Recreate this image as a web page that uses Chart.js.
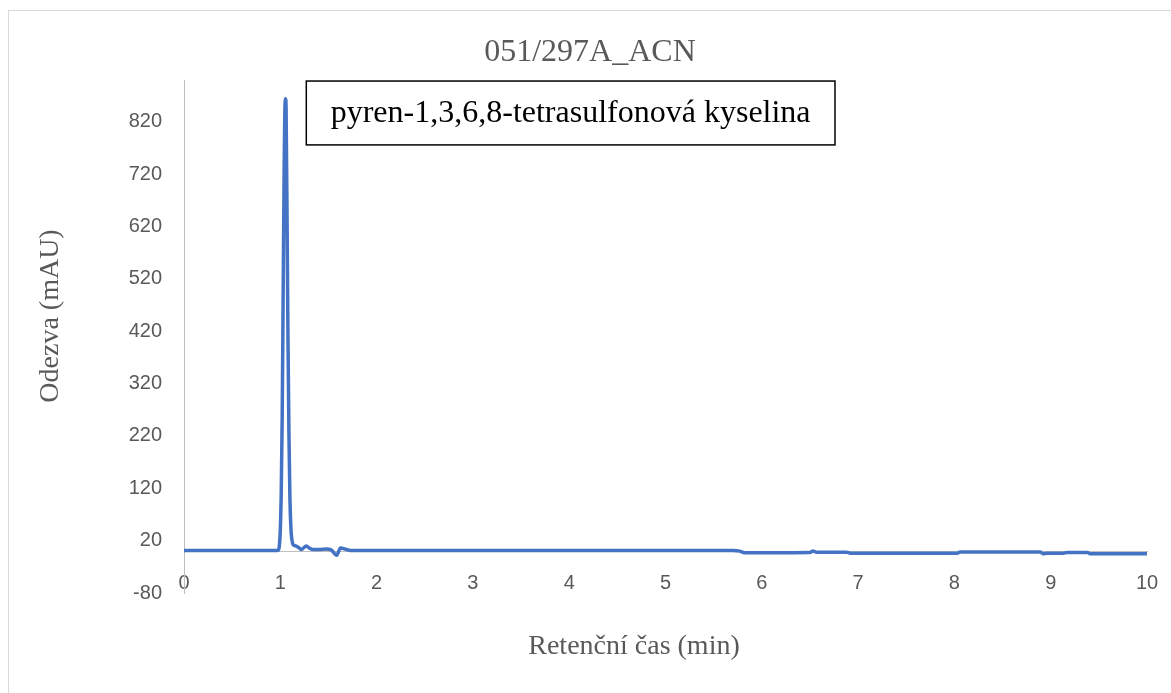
<!DOCTYPE html>
<html>
<head>
<meta charset="utf-8">
<script src="https://cdn.jsdelivr.net/npm/chart.js@4.4.1/dist/chart.umd.min.js"></script>
<style>
  html, body { margin: 0; padding: 0; background: #fff; overflow: hidden; }
  #ramecek { position: absolute; left: 8px; top: 10px; width: 1200px; height: 720px; border: 1px solid #d9d9d9; }
  #obal { position: absolute; left: 0; top: 0; width: 1171px; height: 693px; }
</style>
</head>
<body>
<div id="ramecek"></div>
<div id="obal"><canvas id="graf" width="1171" height="693"></canvas></div>
<script>
// retencni cas (min) a odezva (mAU)
const casy = [0, 0.5, 0.97, 0.98, 0.99, 1.00, 1.01, 1.02, 1.03, 1.04, 1.05, 1.055, 1.06, 1.07, 1.08, 1.09, 1.10, 1.11, 1.12, 1.135,
  1.16, 1.19, 1.22, 1.27, 1.30, 1.34, 1.40, 1.48, 1.53, 1.585, 1.625, 1.69, 1.74, 3.0, 5.7,
  5.77, 5.82, 6.1, 6.5, 6.53, 6.57, 6.88, 6.92, 8.03, 8.06, 8.89, 8.92, 8.96, 9.13, 9.17, 9.38, 9.41, 10];
const odezvy = [1, 1, 1, 2, 10, 40, 115, 260, 500, 730, 858, 864, 845, 640, 400, 220, 100, 45, 22, 12,
  10, 7, 3, 10, 6, 3, 3, 4, 2, -8, 6, 3, 1, 1, 1,
  0, -3, -3, -2.5, 0, -2, -2, -4, -4, -1.5, -1.5, -5, -4, -4, -2.5, -2.5, -5, -5];

const yTicky = [-80, 20, 120, 220, 320, 420, 520, 620, 720, 820];
const xTicky = [0, 1, 2, 3, 4, 5, 6, 7, 8, 9, 10];

const nazev = "051/297A_ACN";
const popisek = "pyren-1,3,6,8-tetrasulfonová kyselina";
const osaX = "Retenční čas (min)";
const osaY = "Odezva (mAU)";

const seda = "#595959";

function text(ctx, t, x, y, font, barva, uhel) {
  ctx.save();
  ctx.translate(x, y);
  if (uhel) ctx.rotate(uhel);
  ctx.fillStyle = barva;
  ctx.font = font;
  ctx.textAlign = "center";
  ctx.textBaseline = "middle";
  ctx.fillText(t, 0, 0);
  ctx.restore();
}

// nadpisy + ramecek s popiskem latky
const popisekPlugin = {
  id: "popisek",
  afterDatasetsDraw(chart) {
    const { ctx, scales: { x, y } } = chart;
    const x1 = x.getPixelForValue(1.27);
    const x2 = x.getPixelForValue(6.76);
    const y1 = y.getPixelForValue(898);
    const y2 = y.getPixelForValue(776);
    ctx.save();
    ctx.fillStyle = "#fff";
    ctx.fillRect(x1, y1, x2 - x1, y2 - y1);
    ctx.strokeStyle = "#000";
    ctx.lineWidth = 1.5;
    ctx.strokeRect(x1, y1, x2 - x1, y2 - y1);
    ctx.restore();
    text(ctx, popisek, (x1 + x2) / 2, (y1 + y2) / 2 + 1, "32px 'Liberation Serif'", "#000");

    text(ctx, nazev, 590, 53, "32px 'Liberation Serif'", seda);
    text(ctx, osaX, 634, 647, "28px 'Liberation Serif'", seda);
    text(ctx, osaY, 51, 316, "28px 'Liberation Serif'", seda, -Math.PI / 2);
  }
};

new Chart(document.getElementById("graf"), {
  type: "line",
  data: {
    datasets: [{
      data: casy.map((t, i) => ({ x: t, y: odezvy[i] })),
      borderColor: "#4472C4",
      borderWidth: 3.5,
      pointRadius: 0,
      cubicInterpolationMode: "monotone",
      borderJoinStyle: "round",
      borderCapStyle: "round",
      fill: false
    }]
  },
  options: {
    responsive: false,
    animation: false,
    layout: { padding: { left: 0, right: 24, top: 80, bottom: 100 } },
    plugins: {
      legend: { display: false },
      tooltip: { enabled: false },
      title: { display: false }
    },
    scales: {
      x: {
        type: "linear",
        position: { y: 0 },
        min: 0,
        max: 10,
        afterBuildTicks: s => { s.ticks = xTicky.map(v => ({ value: v })); },
        afterFit: s => { s.paddingLeft = 0; s.paddingRight = 0; },
        ticks: {
          color: seda,
          font: { family: "Liberation Sans", size: 20 },
          padding: 20,
          maxRotation: 0
        },
        grid: { display: false, drawTicks: false },
        border: { display: true, color: "#bfbfbf", width: 1 }
      },
      y: {
        type: "linear",
        min: -80,
        max: 900,
        afterBuildTicks: s => { s.ticks = yTicky.map(v => ({ value: v })); },
        afterFit: s => { s.width = 184; },
        ticks: {
          color: seda,
          font: { family: "Liberation Sans", size: 20 },
          padding: 22
        },
        grid: { display: false, drawTicks: false },
        border: { display: true, color: "#bfbfbf", width: 1 }
      }
    }
  },
  plugins: [popisekPlugin]
});
</script>
</body>
</html>
